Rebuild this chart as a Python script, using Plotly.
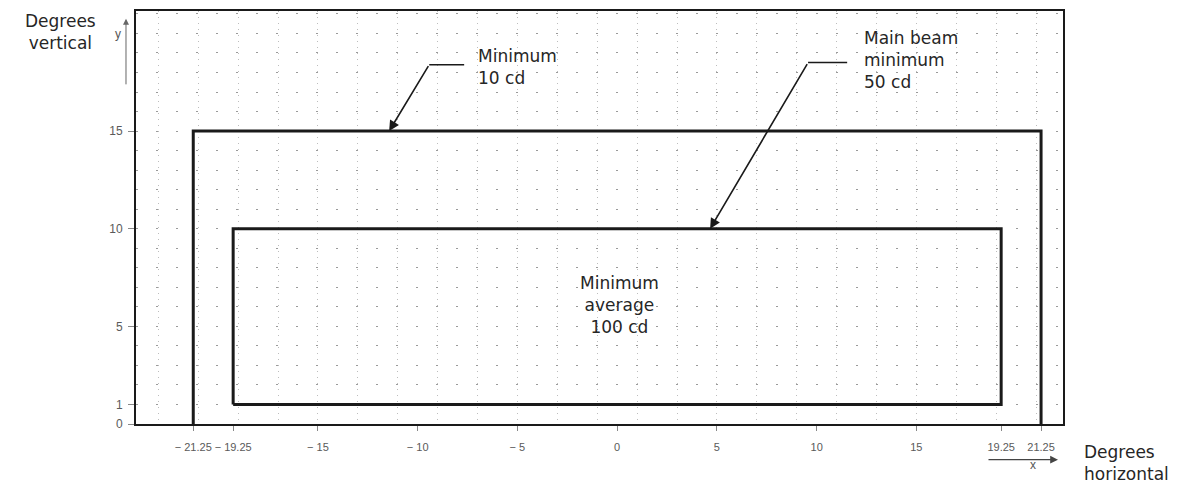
import plotly.graph_objects as go

# ---- data ----
NB = "\u00a0"
MINUS = "\u2212" + NB
x_tick_vals = [-21.25, -19.25, -15, -10, -5, 0, 5, 10, 15, 19.25, 21.25]
x_tick_text = [MINUS + "21.25", MINUS + "19.25", MINUS + "15",
               MINUS + "10", MINUS + "5",
               "0", "5", "10", "15", "19.25", "21.25"]
y_tick_vals = [0, 1, 5, 10, 15]
y_tick_text = ["0", "1", "5", "10", "15"]

outer_x = [-21.25, 21.25]   # minimum 10 cd zone
outer_y = [0, 15]
inner_x = [-19.25, 19.25]   # minimum average 100 cd zone
inner_y = [1, 10]

# leader lines: tip, corner, end of horizontal tail
lead1_tip = (-11.43, 15)
lead1_corner = (-9.42, 18.4)
lead1_end = (-7.67, 18.4)
lead2_tip = (4.66, 10)
lead2_corner = (9.57, 18.51)
lead2_end = (11.53, 18.51)

label1_pos = (-7.07, 18.3)
label2_pos = (12.28, 18.66)
label3_pos = (0.1, 6.1)

X_RANGE = [-24.12, 22.35]
Y_RANGE = [0, 21.15]

FONT = "DejaVu Sans, Liberation Sans, Arial"
TICKFONT = "Liberation Sans, Arial"
INK = "#1a1a1a"

fig = go.Figure()

# outer box (open at the bottom: runs down to the axis)
fig.add_trace(go.Scatter(
    x=[outer_x[0], outer_x[0], outer_x[1], outer_x[1]],
    y=[outer_y[0], outer_y[1], outer_y[1], outer_y[0]],
    mode="lines", line=dict(color=INK, width=3), hoverinfo="skip", showlegend=False))
# inner box
fig.add_trace(go.Scatter(
    x=[inner_x[0], inner_x[0], inner_x[1], inner_x[1], inner_x[0]],
    y=[inner_y[0], inner_y[1], inner_y[1], inner_y[0], inner_y[0]],
    mode="lines", line=dict(color=INK, width=3), hoverinfo="skip", showlegend=False))

# leader tails
for c, e in [(lead1_corner, lead1_end), (lead2_corner, lead2_end)]:
    fig.add_shape(type="line", xref="x", yref="y", x0=c[0], y0=c[1], x1=e[0], y1=e[1],
                  line=dict(color=INK, width=1.6))

annotations = []
for tip, corner in [(lead1_tip, lead1_corner), (lead2_tip, lead2_corner)]:
    annotations.append(dict(x=tip[0], y=tip[1], ax=corner[0], ay=corner[1],
                            xref="x", yref="y", axref="x", ayref="y", text="",
                            showarrow=True, arrowhead=2, arrowsize=1.3, arrowwidth=1.6,
                            arrowcolor=INK, standoff=0))

txt_font = dict(family=FONT, size=17, color="#262626")
annotations += [
    dict(x=label1_pos[0], y=label1_pos[1], xref="x", yref="y", text="Minimum<br>10 cd",
         showarrow=False, xanchor="left", yanchor="middle", align="left", font=txt_font),
    dict(x=label2_pos[0], y=label2_pos[1], xref="x", yref="y",
         text="Main beam<br>minimum<br>50 cd",
         showarrow=False, xanchor="left", yanchor="middle", align="left", font=txt_font),
    dict(x=label3_pos[0], y=label3_pos[1], xref="x", yref="y",
         text="Minimum<br>average<br>100 cd",
         showarrow=False, xanchor="center", yanchor="middle", align="center", font=txt_font),
    # axis titles
    dict(x=-0.081, y=0.948, xref="paper", yref="paper", text="Degrees<br>vertical",
         showarrow=False, xanchor="center", yanchor="middle", align="center", font=txt_font),
    dict(x=1.0205, y=-0.095, xref="paper", yref="paper", text="Degrees<br>horizontal",
         showarrow=False, xanchor="left", yanchor="middle", align="left", font=txt_font),
    # axis arrows
    dict(x=-0.0108, y=0.981, xref="paper", yref="paper", ax=0, ay=67, text="",
         showarrow=True, arrowhead=2, arrowsize=1.2, arrowwidth=1, arrowcolor="#666"),
    dict(x=-0.0248, y=0.966, xref="paper", yref="paper", text="y", showarrow=False,
         font=dict(family=TICKFONT, size=12, color="#555")),
    dict(x=0.9946, y=-0.0865, xref="paper", yref="paper", ax=-71, ay=0, text="",
         showarrow=True, arrowhead=2, arrowsize=1.2, arrowwidth=1.3, arrowcolor="#444"),
    dict(x=0.9725, y=-0.122, xref="paper", yref="paper", text="x", showarrow=False,
         font=dict(family=TICKFONT, size=12, color="#555")),
]

x_grid = dict(showgrid=True, gridcolor="#bdbdbd", griddash="1px,5px", gridwidth=1,
              tickmode="linear", tick0=1, dtick=2, ticklen=0)
y_grid = dict(showgrid=True, gridcolor="#9a9a9a", griddash="2px,18px", gridwidth=1,
              tickmode="linear", tick0=0, dtick=1, ticklen=0)

# page body has an 8px margin: figure sized to fit the 1189x493 window
fig.update_layout(
    width=1173, height=477,
    margin=dict(l=128, r=118, t=1, b=61),
    paper_bgcolor="white", plot_bgcolor="white",
    annotations=annotations,
    xaxis=dict(range=X_RANGE, tickmode="array", tickvals=x_tick_vals, ticktext=x_tick_text,
               tickangle=0,
               showgrid=False, zeroline=False, showline=True, mirror=True,
               linecolor=INK, linewidth=2, ticks="outside", ticklen=5, tickcolor="#888",
               tickfont=dict(family=TICKFONT, size=11, color="#5a5a5a"),
               ticklabelstandoff=7, minor=x_grid),
    yaxis=dict(range=Y_RANGE, tickmode="array", tickvals=y_tick_vals, ticktext=y_tick_text,
               showgrid=False, zeroline=False, showline=True, mirror=True,
               linecolor=INK, linewidth=2, ticks="outside", ticklen=6, tickcolor="#888",
               tickfont=dict(family=TICKFONT, size=12, color="#5a5a5a"),
               ticklabelstandoff=3, minor=y_grid),
)

fig.write_html("out.html")
